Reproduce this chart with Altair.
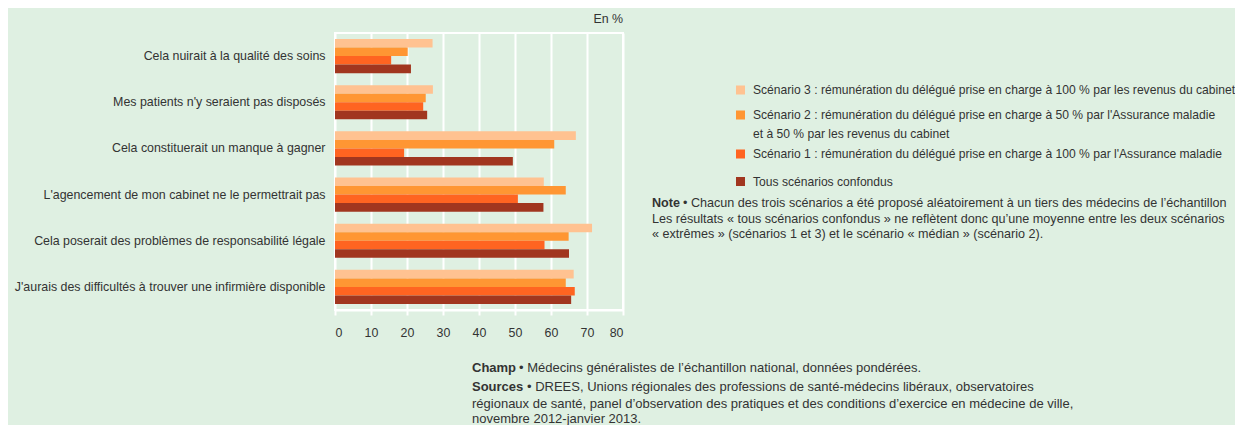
import altair as alt
import pandas as pd

categories = [
    "Cela nuirait à la qualité des soins",
    "Mes patients n'y seraient pas disposés",
    "Cela constituerait un manque à gagner",
    "L'agencement de mon cabinet ne le permettrait pas",
    "Cela poserait des problèmes de responsabilité légale",
    "J'aurais des difficultés à trouver une infirmière disponible",
]
series = ["Scénario 3", "Scénario 2", "Scénario 1", "Tous scénarios confondus"]
s3 = [27.1, 27.2, 66.9, 58.0, 71.4, 66.3]
s2 = [20.2, 25.2, 60.9, 64.1, 64.9, 64.1]
s1 = [15.6, 24.5, 19.2, 50.8, 58.2, 66.6]
tous = [21.1, 25.6, 49.4, 57.9, 65.0, 65.6]
colors = ["#FFC291", "#FF9633", "#FF6421", "#A1361F"]
x_ticks = [0, 10, 20, 30, 40, 50, 60, 70, 80]

legend_labels = [
    ["Scénario 3 : rémunération du délégué prise en charge à 100 % par les revenus du cabinet"],
    ["Scénario 2 : rémunération du délégué prise en charge à 50 % par l'Assurance maladie",
     "et à 50 % par les revenus du cabinet"],
    ["Scénario 1 : rémunération du délégué prise en charge à 100 % par l'Assurance maladie"],
    ["Tous scénarios confondus"],
]
note_lines = [
    "• Chacun des trois scénarios a été proposé aléatoirement à un tiers des médecins de l’échantillon",
    "Les résultats « tous scénarios confondus » ne reflètent donc qu’une moyenne entre les deux scénarios",
    "« extrêmes » (scénarios 1 et 3) et le scénario « médian » (scénario 2).",
]
champ_text = "• Médecins généralistes de l’échantillon national, données pondérées."
sources_lines = [
    "• DREES, Unions régionales des professions de santé-médecins libéraux, observatoires",
    "régionaux de santé, panel d’observation des pratiques et des conditions d’exercice en médecine de ville,",
    "novembre 2012-janvier 2013.",
]

FONT = "Liberation Sans"
TXT = "#333333"
BG = "#DFF0E2"
FS = 12.4
FS_LEG = 12.1
FS_NOTE = 13
FS_NOTE2 = 12.6

rows = []
for ser, vals in zip(series, [s3, s2, s1, tous]):
    for c, v in zip(categories, vals):
        rows.append({"cat": c, "series": ser, "value": v})
df = pd.DataFrame(rows)

bars = alt.Chart(df).mark_bar().encode(
    y=alt.Y("cat:N", sort=categories,
            scale=alt.Scale(paddingInner=0.26, paddingOuter=0.13),
            axis=alt.Axis(title=None, labelFontSize=FS, labelFont=FONT, labelColor=TXT,
                          labelPadding=10, ticks=False, domain=False, labelLimit=500,
                          grid=False)),
    yOffset=alt.YOffset("series:N", sort=series),
    x=alt.X("value:Q", scale=alt.Scale(domain=[0, 80], nice=False),
            axis=alt.Axis(title=None, values=x_ticks, grid=True, gridColor="white",
                          gridWidth=2, gridOpacity=1, domainColor="white", domainWidth=2,
                          tickColor="white", tickSize=5, tickWidth=2,
                          labelFontSize=FS, labelFont=FONT, labelColor=TXT,
                          labelPadding=11)),
    color=alt.Color("series:N", scale=alt.Scale(domain=series, range=colors), legend=None),
)


def txt(s, x, y, bold=False, align="left", size=FS):
    return alt.Chart(alt.Data(values=[{}])).mark_text(
        text=s, align=align, baseline="middle", fontSize=size, font=FONT,
        fontWeight="bold" if bold else "normal", color=TXT,
    ).encode(x=alt.value(x), y=alt.value(y))


def sq(c, x, y):
    return alt.Chart(alt.Data(values=[{}])).mark_square(
        size=81, color=c, opacity=1
    ).encode(x=alt.value(x), y=alt.value(y))


layers = [bars, txt("En %", 288, -14, align="right")]

legend_y = [57, 82, 121, 148.5]
for c, lab, y in zip(colors, legend_labels, legend_y):
    layers.append(sq(c, 405.5, y))
    for i, line in enumerate(lab):
        layers.append(txt(line, 418, y + 18.5 * i, size=FS_LEG))

layers.append(txt("Note", 317, 170, bold=True, size=FS_NOTE2))
layers.append(txt(note_lines[0], 348, 170, size=FS_NOTE2))
layers.append(txt(note_lines[1], 317, 185.5, size=FS_NOTE2))
layers.append(txt(note_lines[2], 317, 201, size=FS_NOTE2))

layers.append(txt("Champ", 137, 335, bold=True, size=FS_NOTE))
layers.append(txt(champ_text, 184, 335, size=FS_NOTE))
layers.append(txt("Sources", 137, 354, bold=True, size=FS_NOTE))
layers.append(txt(sources_lines[0], 192, 354, size=FS_NOTE))
layers.append(txt(sources_lines[1], 137, 370.5, size=FS_NOTE))
layers.append(txt(sources_lines[2], 137, 386, size=FS_NOTE))

chart = alt.layer(*layers).properties(
    width=288, height=277,
    autosize=alt.AutoSizeParams(type="none"),
    padding={"left": 327, "top": 25, "right": 612, "bottom": 115},
    background=BG,
).configure_view(stroke="white", strokeWidth=2)

chart.save("out.html", embed_options={"renderer": "svg", "actions": False})
